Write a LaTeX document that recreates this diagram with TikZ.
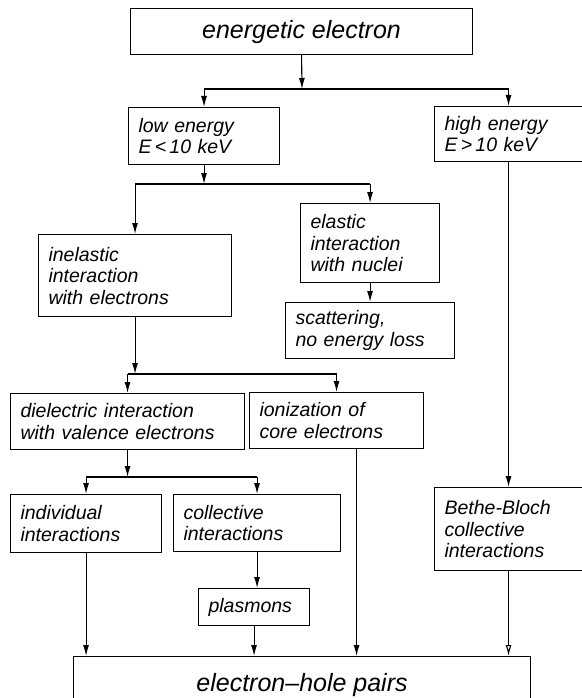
\documentclass[tikz,border=0pt]{standalone}
\usepackage{fontspec}
\setmainfont{Liberation Sans}
\usetikzlibrary{arrows.meta}
\begin{document}
\begin{tikzpicture}[x=1pt, y=-1pt, >={Latex[length=11pt,width=6pt]}, line width=1.1pt,
	box/.style={draw, anchor=north west, align=left, inner xsep=10pt, inner ysep=0pt,
		font=\fontsize{19.5}{21.5}\selectfont\itshape},
	widebox/.style={draw, anchor=north west, align=center, inner sep=0pt,
		font=\fontsize{25}{28}\selectfont\itshape}]
		\useasboundingbox (0,0) rectangle (581,698);
		% boxes
		\node[widebox, minimum width=342pt, minimum height=46pt] (top) at (130,8) {energetic electron};
		\node[box, text width=131pt, minimum height=57pt] (low) at (128,107) {low energy\\E\,<\,10 keV};
		\node[box, text width=128pt, minimum height=55pt] (high) at (434,106) {high energy\\E\,>\,10 keV};
		\node[box, text width=119pt, minimum height=79pt] (elastic) at (300,203) {elastic\\interaction\\with nuclei};
		\node[box, text width=173pt, minimum height=82pt] (inelastic) at (38,234) {inelastic\\interaction\\with electrons};
		\node[box, text width=149pt, minimum height=56pt] (scatter) at (285,302) {scattering,\\no energy loss};
		\node[box, text width=214pt, minimum height=56pt] (dielectric) at (10,393) {dielectric interaction\\with valence electrons};
		\node[box, text width=154pt, minimum height=56pt] (ionization) at (249,392) {ionization of\\core electrons};
		\node[box, text width=131pt, minimum height=58pt] (individual) at (10,494) {individual\\interactions};
		\node[box, text width=147pt, minimum height=57pt] (collective) at (173,494) {collective\\interactions};
		\node[box, text width=91pt, minimum height=37pt] (plasmons) at (198,588) {plasmons};
		\node[box, text width=128pt, minimum height=83pt] (bethe) at (434,487) {Bethe-Bloch\\collective\\interactions};
		\node[widebox, minimum width=457pt, minimum height=56pt] (eh) at (73,656) {electron--hole pairs};
		% branch points
		\coordinate (s1) at (302,89);
		\coordinate (s2) at (204,184);
		\coordinate (s3) at (131,374);
		\coordinate (s4) at (120,477);
		% connectors
		\draw[->] (top.south) -- (s1);
		\draw (s1 -| low.north) -- (s1 -| high.north);
		\draw[->] (s1 -| low.north) -- (low.north);
		\draw[->] (s1 -| high.north) -- (high.north);
		\draw[->] (low.south) -- (low.south |- s2);
		\draw (s2 -| inelastic.north) -- (s2 -| elastic.north);
		\draw[->] (s2 -| inelastic.north) -- (inelastic.north);
		\draw[->] (s2 -| elastic.north) -- (elastic.north);
		\draw[->] (elastic.south) -- (elastic.south |- scatter.north);
		\draw[->] (inelastic.south) -- (inelastic.south |- s3);
		\draw (s3 -| dielectric.north) -- (s3 -| ionization.north);
		\draw[->] (s3 -| dielectric.north) -- (dielectric.north);
		\draw[->] (s3 -| ionization.north) -- (ionization.north);
		\draw[->] (dielectric.south) -- (dielectric.south |- s4);
		\draw (s4 -| individual.north) -- (s4 -| collective.north);
		\draw[->] (s4 -| individual.north) -- (individual.north);
		\draw[->] (s4 -| collective.north) -- (collective.north);
		\draw[->] (collective.south) -- (collective.south |- plasmons.north);
		\draw[->] (plasmons.south) -- (plasmons.south |- eh.north);
		\draw[->] (individual.south) -- (individual.south |- eh.north);
		\draw[->] ([xshift=20pt]ionization.south) -- ([xshift=20pt]ionization.south |- eh.north);
		\draw[->] (high.south) -- (bethe.north);
		\draw[-{Latex[open,length=11pt,width=6pt]}] (bethe.south) -- (bethe.south |- eh.north);
		\end{tikzpicture}
\end{document}
